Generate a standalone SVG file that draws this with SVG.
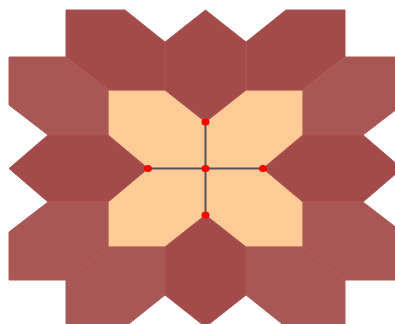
<svg xmlns="http://www.w3.org/2000/svg" width="395" height="324" viewBox="0 0 395 324">
<style>
.dk{fill:#a34b4b;stroke:#ad5552;stroke-width:1}
.lt{fill:#a85656;stroke:#b05c57;stroke-width:1}
.or{fill:#fecb96;stroke:#c4764f;stroke-width:1;stroke-opacity:0.7}
.ln{stroke:#555;stroke-width:2;fill:none}
.pt{fill:#ff0000}
</style>
<rect width="395" height="324" fill="#ffffff"/>
<g id="center">
<polygon class="or" points="108,90 165,90 205.5,122 205.5,168.5 148,168.5 108,135"/>
<polygon class="or" points="303,90 246,90 205.5,122 205.5,168.5 263,168.5 303,135"/>
<polygon class="or" points="108,247 165,247 205.5,215 205.5,168.5 148,168.5 108,202"/>
<polygon class="or" points="303,247 246,247 205.5,215 205.5,168.5 263,168.5 303,202"/>
</g>
<g id="tiles">
<polygon id="A" class="dk" points="66,10 125,10 165,42 165,90 108,90 66,57"/>
<polygon id="F" class="dk" points="165,42 205.5,10 246,42 246,90 205.5,122 165,90"/>
<polygon id="G" class="dk" points="246,42 286,10 345,10 345,57 303,90 246,90"/>
<polygon id="B" class="lt" points="9,57 66,57 108,90 108,135 48,135 9,105"/>
<polygon id="H" class="lt" points="402,57 345,57 303,90 303,135 363,135 402,105"/>
<polygon id="C" class="dk" points="9,168.5 48,135 108,135 148,168.5 108,202 48,202"/>
<polygon id="I" class="dk" points="402,168.5 363,135 303,135 263,168.5 303,202 363,202"/>
<polygon id="D" class="lt" points="9,232 48,202 108,202 108,247 66,280 9,280"/>
<polygon id="J" class="lt" points="402,232 363,202 303,202 303,247 345,280 402,280"/>
<polygon id="E" class="lt" points="66,280 108,247 165,247 165,295 125,327 66,327"/>
<polygon id="K" class="lt" points="345,280 303,247 246,247 246,295 286,327 345,327"/>
<polygon id="L" class="dk" points="165,247 205.5,215 246,247 246,295 205.5,327 165,295"/>
</g>
<g id="connectors">
<line class="ln" x1="205.5" y1="122" x2="205.5" y2="215"/>
<line class="ln" x1="148" y1="168.5" x2="263" y2="168.5"/>
</g>
<g id="points">
<ellipse class="pt" cx="205.5" cy="122" rx="4" ry="3.5"/>
<ellipse class="pt" cx="148" cy="168.5" rx="4" ry="3.5"/>
<ellipse class="pt" cx="205.5" cy="168.5" rx="4" ry="3.5"/>
<ellipse class="pt" cx="263" cy="168.5" rx="4" ry="3.5"/>
<ellipse class="pt" cx="205.5" cy="215" rx="4" ry="3.5"/>
</g>
</svg>
